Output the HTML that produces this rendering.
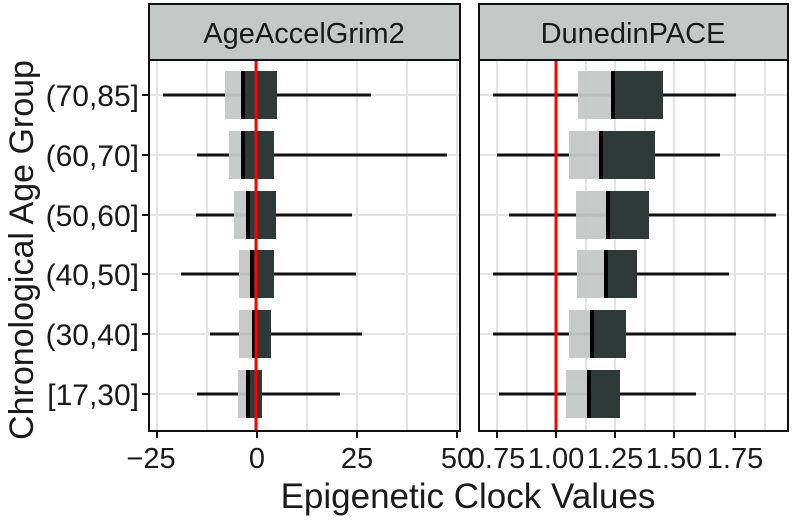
<!DOCTYPE html>
<html><head><meta charset="utf-8"><style>body{margin:0;background:#fff}svg{display:block}text{font-family:"Liberation Sans",sans-serif;fill:#1a1a1a}</style></head><body>
<svg width="793" height="521" viewBox="0 0 793 521">
<g stroke="#e3e3e3" stroke-width="2">
<line x1="207" y1="60" x2="207" y2="431"/><line x1="307" y1="60" x2="307" y2="431"/><line x1="407" y1="60" x2="407" y2="431"/>
<line x1="157" y1="60" x2="157" y2="431"/><line x1="257" y1="60" x2="257" y2="431"/><line x1="357" y1="60" x2="357" y2="431"/><line x1="457" y1="60" x2="457" y2="431"/>
<line x1="149" y1="95" x2="460" y2="95"/><line x1="149" y1="155" x2="460" y2="155"/><line x1="149" y1="215" x2="460" y2="215"/><line x1="149" y1="274" x2="460" y2="274"/><line x1="149" y1="334" x2="460" y2="334"/><line x1="149" y1="394" x2="460" y2="394"/>
<line x1="497" y1="60" x2="497" y2="431"/><line x1="556" y1="60" x2="556" y2="431"/><line x1="615" y1="60" x2="615" y2="431"/><line x1="674" y1="60" x2="674" y2="431"/><line x1="735" y1="60" x2="735" y2="431"/>
<line x1="527" y1="60" x2="527" y2="431"/><line x1="586" y1="60" x2="586" y2="431"/><line x1="645" y1="60" x2="645" y2="431"/><line x1="705" y1="60" x2="705" y2="431"/><line x1="765" y1="60" x2="765" y2="431"/>
<line x1="479" y1="95" x2="788" y2="95"/><line x1="479" y1="155" x2="788" y2="155"/><line x1="479" y1="215" x2="788" y2="215"/><line x1="479" y1="274" x2="788" y2="274"/><line x1="479" y1="334" x2="788" y2="334"/><line x1="479" y1="394" x2="788" y2="394"/>
</g>
<g stroke="#111" stroke-width="3">
<line x1="163" y1="95" x2="371" y2="95"/><line x1="197" y1="155" x2="447" y2="155"/><line x1="196" y1="215" x2="352" y2="215"/><line x1="181" y1="274" x2="356" y2="274"/><line x1="210" y1="334" x2="362" y2="334"/><line x1="197" y1="394" x2="340" y2="394"/>
<line x1="493" y1="95" x2="736" y2="95"/><line x1="497" y1="155" x2="720" y2="155"/><line x1="509" y1="215" x2="776" y2="215"/><line x1="493" y1="274" x2="729" y2="274"/><line x1="493" y1="334" x2="736" y2="334"/><line x1="499" y1="394" x2="696" y2="394"/>
</g>
<g fill="#c3c9c7" opacity="0.95">
<rect x="225" y="71" width="20" height="48"/><rect x="229" y="131" width="16" height="48"/><rect x="234" y="191" width="16" height="48"/><rect x="239" y="250" width="15" height="48"/><rect x="239" y="310" width="16" height="48"/><rect x="238" y="370" width="11" height="48"/>
<rect x="578" y="71" width="36" height="48"/><rect x="569" y="131" width="33" height="48"/><rect x="576" y="191" width="33" height="48"/><rect x="577" y="250" width="30" height="48"/><rect x="569" y="310" width="24" height="48"/><rect x="566" y="370" width="24" height="48"/>
</g>
<g fill="#2f3a38">
<rect x="243" y="71" width="34" height="48"/><rect x="243" y="131" width="31" height="48"/><rect x="248" y="191" width="28" height="48"/><rect x="252" y="250" width="22" height="48"/><rect x="254" y="310" width="17" height="48"/><rect x="248" y="370" width="14" height="48"/>
<rect x="613" y="71" width="50" height="48"/><rect x="601" y="131" width="54" height="48"/><rect x="608" y="191" width="41" height="48"/><rect x="606" y="250" width="31" height="48"/><rect x="592" y="310" width="34" height="48"/><rect x="589" y="370" width="31" height="48"/>
</g>
<g fill="#000">
<rect x="241" y="71" width="4" height="48"/><rect x="241" y="131" width="4" height="48"/><rect x="246" y="191" width="4" height="48"/><rect x="250" y="250" width="4" height="48"/><rect x="252" y="310" width="4" height="48"/><rect x="246" y="370" width="4" height="48"/>
<rect x="611" y="71" width="4" height="48"/><rect x="599" y="131" width="4" height="48"/><rect x="606" y="191" width="4" height="48"/><rect x="604" y="250" width="4" height="48"/><rect x="590" y="310" width="4" height="48"/><rect x="587" y="370" width="4" height="48"/>
</g>
<line x1="256" y1="60" x2="256" y2="431" stroke="#f00" stroke-width="3"/>
<line x1="556" y1="60" x2="556" y2="431" stroke="#f00" stroke-width="3"/>
<rect x="149" y="4" width="311" height="56" fill="#c3c9c7" stroke="#111" stroke-width="2"/>
<rect x="479" y="4" width="309" height="56" fill="#c3c9c7" stroke="#111" stroke-width="2"/>
<rect x="149" y="60" width="311" height="371" fill="none" stroke="#111" stroke-width="2"/>
<rect x="479" y="60" width="309" height="371" fill="none" stroke="#111" stroke-width="2"/>
<text x="304" y="43" font-size="29" text-anchor="middle">AgeAccelGrim2</text>
<text x="633" y="43" font-size="29" text-anchor="middle">DunedinPACE</text>
<g stroke="#111" stroke-width="2">
<line x1="142" y1="95" x2="149" y2="95"/><line x1="142" y1="155" x2="149" y2="155"/><line x1="142" y1="215" x2="149" y2="215"/><line x1="142" y1="274" x2="149" y2="274"/><line x1="142" y1="334" x2="149" y2="334"/><line x1="142" y1="394" x2="149" y2="394"/>
<line x1="157" y1="431" x2="157" y2="438"/><line x1="257" y1="431" x2="257" y2="438"/><line x1="357" y1="431" x2="357" y2="438"/><line x1="457" y1="431" x2="457" y2="438"/>
<line x1="497" y1="431" x2="497" y2="438"/><line x1="556" y1="431" x2="556" y2="438"/><line x1="615" y1="431" x2="615" y2="438"/><line x1="674" y1="431" x2="674" y2="438"/><line x1="735" y1="431" x2="735" y2="438"/>
</g>
<g font-size="30" text-anchor="end">
<text x="139" y="106">(70,85]</text><text x="139" y="166">(60,70]</text><text x="139" y="226">(50,60]</text><text x="139" y="285">(40,50]</text><text x="139" y="345">(30,40]</text><text x="139" y="405">[17,30]</text>
</g>
<g font-size="29" text-anchor="middle">
<text x="151" y="468">−25</text><text x="257" y="468">0</text><text x="357" y="468">25</text><text x="457" y="468">50</text>
<text x="497" y="468">0.75</text><text x="556" y="468">1.00</text><text x="615" y="468">1.25</text><text x="674" y="468">1.50</text><text x="735" y="468">1.75</text>
</g>
<text x="468" y="508" font-size="35" text-anchor="middle">Epigenetic Clock Values</text>
<text transform="translate(33,250) rotate(-90)" font-size="34" text-anchor="middle">Chronological Age Group</text>
</svg>
</body></html>
